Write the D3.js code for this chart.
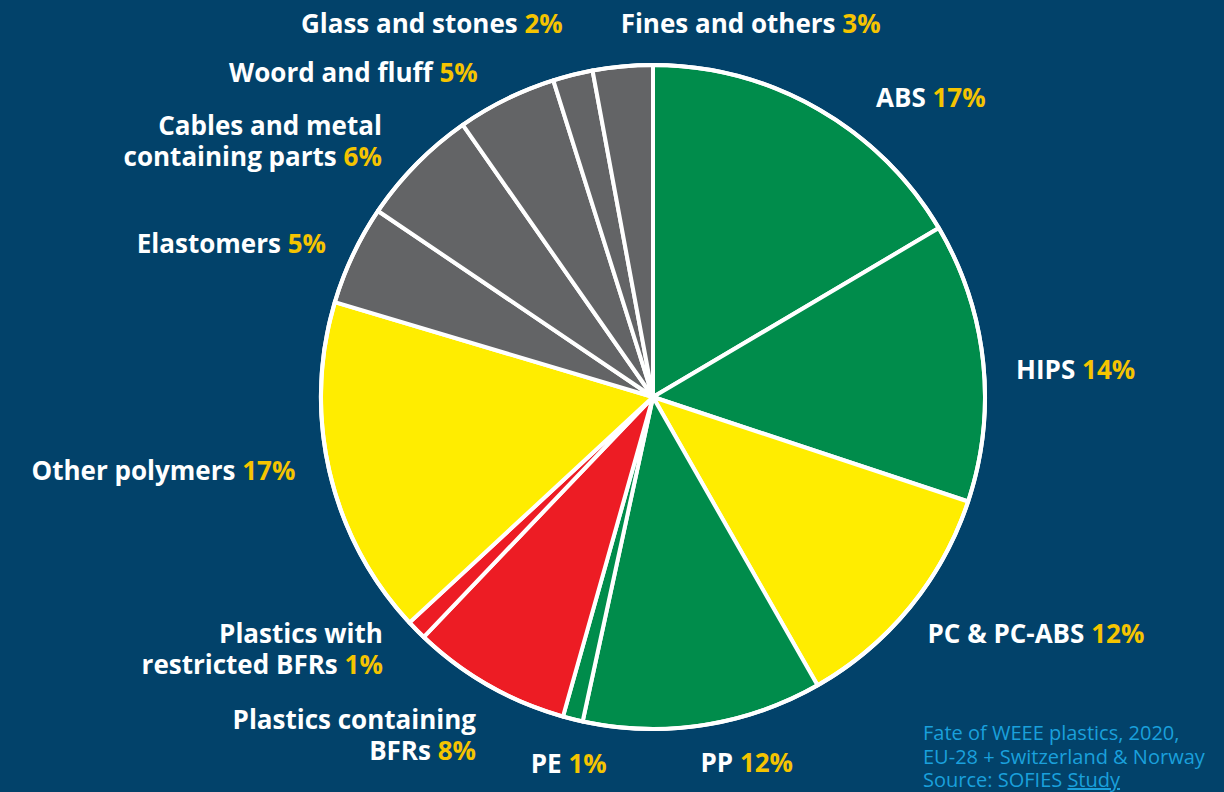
<!DOCTYPE html>
<html>
<head>
<meta charset="utf-8">
<script src="https://cdn.jsdelivr.net/npm/d3@7"></script>
<style>
  html, body { margin: 0; padding: 0; background: #02426a; }
  svg { display: block; }
</style>
</head>
<body>
<div id="chart"></div>
<script>
// data, clockwise from 12 o'clock
const categories = ["ABS", "HIPS", "PC & PC-ABS", "PP", "PE", "Plastics containing\nBFRs",
  "Plastics with\nrestricted BFRs", "Other polymers", "Elastomers",
  "Cables and metal\ncontaining parts", "Woord and fluff", "Glass and stones", "Fines and others"];
const shares = [17, 14, 12, 12, 1, 8, 1, 17, 5, 6, 5, 2, 3];
const groups = ["recyclable", "recyclable", "other", "recyclable", "recyclable", "bfr",
  "bfr", "other", "rest", "rest", "rest", "rest", "rest"];
const sourceLines = ["Fate of WEEE plastics, 2020,", "EU-28 + Switzerland & Norway", "Source: SOFIES "];

// hand tweaks for label placement (anchor, dx, dy)
const labelTweak = [
  ["start", 42, 18], ["start", 0, 12], ["start", -8, 5], ["start", -8, 5], ["middle", 4, 12],
  ["end", 4, 21], ["end", -10, -4], ["end", -2, -9], ["end", 3, 3], ["end", -11, 0],
  ["end", -14, 3], ["end", -2, -19], ["start", 1, -10]
];

const width = 1224, height = 792;
const cx = 653, cy = 397, radius = 332;

const color = d3.scaleOrdinal()
  .domain(["recyclable", "other", "bfr", "rest"])
  .range(["#008c4b", "#ffed00", "#ed1c24", "#636466"]);

const svg = d3.select("#chart").append("svg")
  .attr("width", width)
  .attr("height", height);

svg.append("rect").attr("width", width).attr("height", height).attr("fill", "#02426a");

const g = svg.append("g").attr("transform", "translate(" + cx + "," + cy + ")");

const pie = d3.pie().sort(null).value(d => d.value);
const data = categories.map((c, i) => ({ name: c, value: shares[i], group: groups[i], i: i }));
const arcs = pie(data);

const arc = d3.arc().innerRadius(0).outerRadius(radius);
const labelArc = d3.arc().innerRadius(radius * 1.1).outerRadius(radius * 1.1);

g.selectAll("path.slice")
  .data(arcs)
  .enter()
  .append("path")
  .attr("class", "slice")
  .attr("d", arc)
  .attr("fill", d => color(d.data.group))
  .attr("stroke", "white")
  .attr("stroke-width", 4)
  .attr("stroke-linejoin", "round");

// outer white ring
g.append("circle").attr("r", radius).attr("fill", "none")
  .attr("stroke", "white").attr("stroke-width", 4);

const fontSize = 26, lineH = 31;

g.selectAll("text.label")
  .data(arcs)
  .enter()
  .append("text")
  .attr("class", "label")
  .attr("font-family", "'Open Sans', sans-serif")
  .attr("font-weight", 700)
  .attr("font-size", fontSize)
  .attr("fill", "white")
  .attr("text-anchor", d => labelTweak[d.data.i][0])
  .each(function(d) {
    const t = labelTweak[d.data.i];
    const pos = labelArc.centroid(d);
    const x = pos[0] + t[1];
    const lines = d.data.name.split("\n");
    const y0 = pos[1] + t[2] - (lines.length - 1) * lineH / 2 + fontSize * 0.36;
    const el = d3.select(this);
    lines.forEach((ln, k) => {
      el.append("tspan").attr("x", x).attr("y", y0 + k * lineH).text(ln + (k === lines.length - 1 ? " " : ""));
      if (k === lines.length - 1) {
        el.append("tspan").attr("fill", "#f5c400").text(d.data.value + "%");
      }
    });
  });

// source note
const note = svg.append("g")
  .attr("font-family", "'Open Sans', sans-serif")
  .attr("font-size", 20)
  .attr("fill", "#1aa0dc");

sourceLines.forEach((s, k) => {
  const t = note.append("text").attr("x", 923).attr("y", 740 + k * 23.5).text(s);
  if (k === sourceLines.length - 1) {
    t.append("tspan").attr("text-decoration", "underline").text("Study");
  }
});
</script>
</body>
</html>
